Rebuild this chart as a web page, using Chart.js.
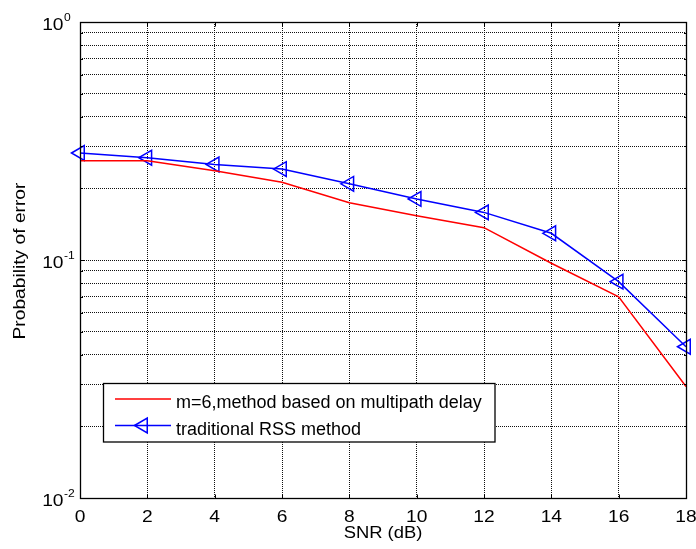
<!DOCTYPE html>
<html>
<head>
<meta charset="utf-8">
<title>Probability of error vs SNR</title>
<script src="https://cdn.jsdelivr.net/npm/chart.js@4/dist/chart.umd.min.js"></script>
<style>
  html, body { margin: 0; padding: 0; background: #ffffff; }
  #wrap { width: 696px; height: 549px; }
  canvas { display: block; }
</style>
</head>
<body>
<div id="wrap"><canvas id="chart" width="696" height="549"></canvas></div>
<script>
// SNR values (dB) on the x axis
const snr = [0, 2, 4, 6, 8, 10, 12, 14, 16, 18];

// Probability of error for each method
const multipathDelay = [0.261, 0.261, 0.237, 0.212, 0.174, 0.1535, 0.1367, 0.0969, 0.0701, 0.0294];
const traditionalRss = [0.2816, 0.269, 0.252, 0.241, 0.209, 0.1805, 0.1585, 0.1295, 0.0811, 0.0432];

// Legend entries
const seriesNames = ['m=6,method based on multipath delay', 'traditional RSS method'];

// Axis ticks
const xTicks = [0, 2, 4, 6, 8, 10, 12, 14, 16, 18];
const yDecadeExponents = [-2, -1, 0];
const logMultipliers = [1, 2, 3, 4, 5, 6, 7, 8, 9];

// Log grid positions: every multiplier in each decade, plus the top decade
const yGridValues = [];
yDecadeExponents.slice(0, -1).forEach(e => {
  logMultipliers.forEach(m => yGridValues.push(+(m * Math.pow(10, e)).toPrecision(3)));
});
yGridValues.push(Math.pow(10, yDecadeExponents[yDecadeExponents.length - 1]));

const FONT = '"Liberation Sans", Arial, Helvetica, sans-serif';

function stretchedText(ctx, text, x, y, align, sx, rot) {
  ctx.save();
  ctx.translate(x, y);
  if (rot) ctx.rotate(rot);
  ctx.scale(sx, 1);
  ctx.textAlign = align;
  ctx.fillText(text, 0, 0);
  ctx.restore();
}

// Draws the frame, inward ticks, tick labels, axis titles and the legend box
const figureDecor = {
  id: 'figureDecor',
  afterDatasetsDraw(chart) {
    const ctx = chart.ctx;
    const area = chart.chartArea;
    const xs = chart.scales.x;
    const ys = chart.scales.y;
    const L = Math.round(area.left) + 0.5, R = Math.round(area.right) + 0.5;
    const T = Math.round(area.top) + 0.5, B = Math.round(area.bottom) + 0.5;

    ctx.save();
    ctx.strokeStyle = '#000';
    ctx.lineWidth = 1;
    ctx.setLineDash([]);

    // inward tick marks
    ctx.beginPath();
    xTicks.forEach(v => {
      const px = Math.round(xs.getPixelForValue(v)) + 0.5;
      ctx.moveTo(px, B); ctx.lineTo(px, B - 4);
      ctx.moveTo(px, T); ctx.lineTo(px, T + 4);
    });
    yGridValues.forEach(v => {
      const py = Math.round(ys.getPixelForValue(v)) + 0.5;
      const major = Math.abs(Math.log10(v) - Math.round(Math.log10(v))) < 1e-9;
      const len = major ? 4 : 2.5;
      ctx.moveTo(L, py); ctx.lineTo(L + len, py);
      ctx.moveTo(R, py); ctx.lineTo(R - len, py);
    });
    ctx.stroke();

    // frame
    ctx.lineWidth = 1.3;
    ctx.strokeRect(L, T, R - L, B - T);

    // x tick labels
    ctx.fillStyle = '#000';
    ctx.textBaseline = 'alphabetic';
    ctx.font = '16px ' + FONT;
    xTicks.forEach(v => {
      stretchedText(ctx, String(v), xs.getPixelForValue(v), B + 23, 'center', 1.2);
    });

    // y tick labels as powers of ten
    yDecadeExponents.forEach(e => {
      const py = ys.getPixelForValue(Math.pow(10, e));
      ctx.font = '16px ' + FONT;
      stretchedText(ctx, '10', 63.5, py + 7.5, 'right', 1.2);
      ctx.font = '11px ' + FONT;
      stretchedText(ctx, String(e), 64, py - 1.5, 'left', 1.1);
    });

    // axis titles
    ctx.font = '16px ' + FONT;
    stretchedText(ctx, 'SNR (dB)', (area.left + area.right) / 2, 538, 'center', 1.15);
    stretchedText(ctx, 'Probability of error', 25, 261, 'center', 1.2, -Math.PI / 2);

    // legend
    const lx = 103.5, ly = 383.5, lw = 391.5, lh = 58.5;
    ctx.fillStyle = '#fff';
    ctx.fillRect(lx, ly, lw, lh);
    ctx.lineWidth = 1.3;
    ctx.strokeStyle = '#000';
    ctx.strokeRect(lx, ly, lw, lh);

    const ds = chart.data.datasets;
    const rows = [399, 425.5];
    ds.forEach((d, i) => {
      const y = rows[i];
      ctx.strokeStyle = d.borderColor;
      ctx.lineWidth = d.borderWidth;
      ctx.beginPath();
      ctx.moveTo(115, y); ctx.lineTo(171, y);
      ctx.stroke();
      if (d.pointRadius > 0) {
        ctx.fillStyle = 'rgba(0,0,0,0)';
        Chart.helpers.drawPoint(ctx, {
          pointStyle: d.pointStyle, rotation: d.pointRotation,
          radius: d.pointRadius, borderWidth: d.pointBorderWidth
        }, 143, y);
      }
      ctx.fillStyle = '#000';
      ctx.font = '18px ' + FONT;
      ctx.textAlign = 'left';
      ctx.fillText(seriesNames[i], 176, y + 9);
    });
    ctx.restore();
  }
};

const chart = new Chart(document.getElementById('chart'), {
  type: 'line',
  data: {
    datasets: [
      {
        label: seriesNames[0],
        data: snr.map((x, i) => ({ x, y: multipathDelay[i] })),
        borderColor: '#ff0000',
        borderWidth: 1.5,
        pointRadius: 0,
        tension: 0,
        fill: false,
        clip: false
      },
      {
        label: seriesNames[1],
        data: snr.map((x, i) => ({ x, y: traditionalRss[i] })),
        borderColor: '#0000ff',
        borderWidth: 1.5,
        pointStyle: 'triangle',
        pointRotation: -90,
        pointRadius: 8.5,
        pointBorderWidth: 1.5,
        pointBorderColor: '#0000ff',
        pointBackgroundColor: 'rgba(0,0,0,0)',
        tension: 0,
        fill: false,
        clip: false
      }
    ]
  },
  options: {
    responsive: false,
    devicePixelRatio: 1,
    animation: false,
    events: [],
    layout: { padding: { left: 80, right: 10, top: 22, bottom: 51 } },
    plugins: { legend: { display: false }, tooltip: { enabled: false } },
    scales: {
      x: {
        type: 'linear',
        min: xTicks[0],
        max: xTicks[xTicks.length - 1],
        afterBuildTicks: s => { s.ticks = xTicks.map(v => ({ value: v })); },
        ticks: { display: false },
        grid: { color: '#111', lineWidth: 1, drawTicks: false },
        border: { display: false, dash: [1, 1] }
      },
      y: {
        type: 'logarithmic',
        min: Math.pow(10, yDecadeExponents[0]),
        max: Math.pow(10, yDecadeExponents[yDecadeExponents.length - 1]),
        afterBuildTicks: s => { s.ticks = yGridValues.map(v => ({ value: v })); },
        ticks: { display: false },
        grid: { color: '#111', lineWidth: 1, drawTicks: false },
        border: { display: false, dash: [1, 1] }
      }
    }
  },
  plugins: [figureDecor]
});
</script>
</body>
</html>
